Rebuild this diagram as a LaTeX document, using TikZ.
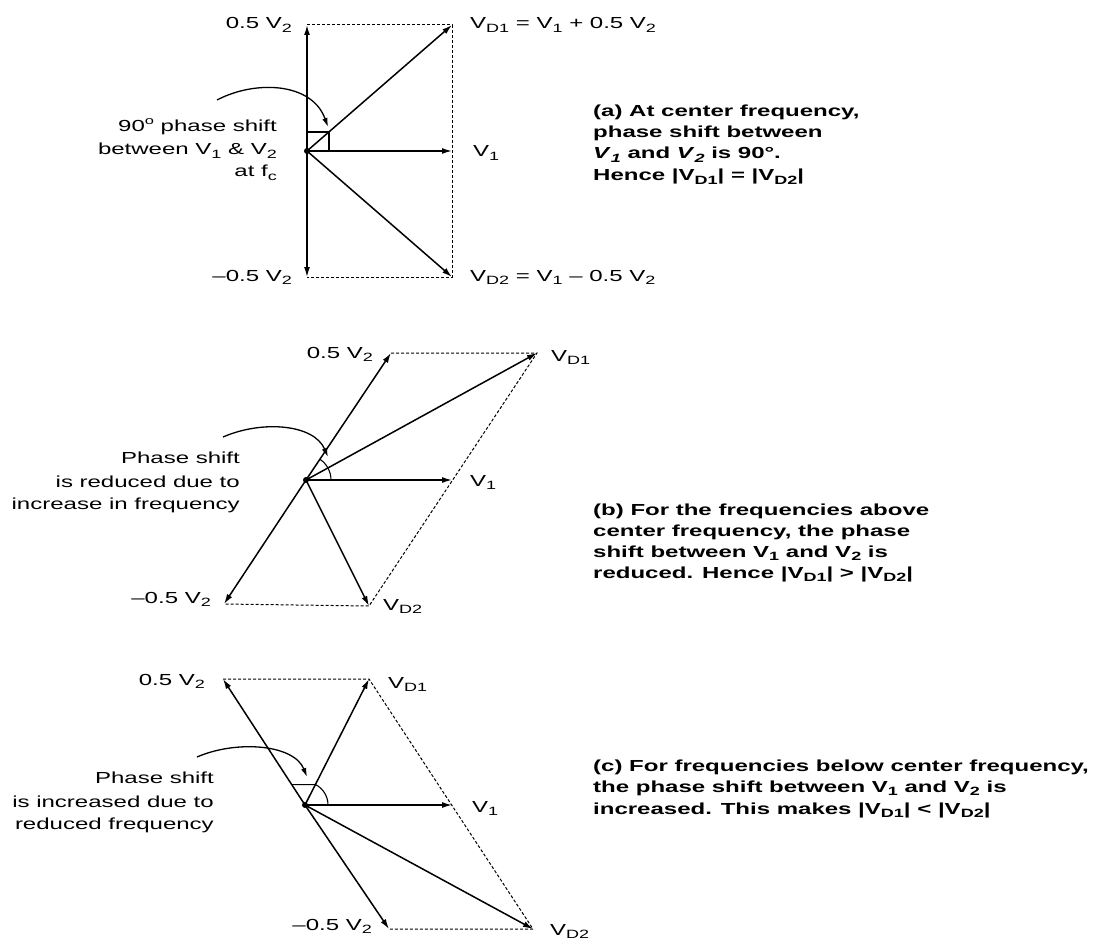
\documentclass[tikz,border=0pt]{standalone}
\usepackage{fontspec}
\setmainfont[FakeStretch=1.5]{Liberation Sans}
\usetikzlibrary{arrows.meta}
\newcommand\sbs[1]{\raisebox{-0.4ex}{\fontsize{12}{12}\selectfont #1}}
\newcommand\sps[1]{\raisebox{0.85ex}{\fontsize{11}{12}\selectfont #1}}
\begin{document}
\begin{tikzpicture}[x=1pt,y=-1pt,
  vec/.style={line width=1.5pt,-{Latex[length=10pt,width=6pt]}},
  dsh/.style={line width=1pt,dash pattern=on 3pt off 2pt},
  bendarrow/.style={line width=1.3pt,-{Latex[length=9pt,width=5.5pt]}},
  anglemark/.style={line width=1.1pt},
  lbl/.style={font=\fontsize{16}{20}\selectfont, inner sep=0pt},
  desc/.style={font=\fontsize{16}{20}\selectfont\bfseries, inner sep=0pt, anchor=base west},
  note/.style={font=\fontsize{16}{20}\selectfont, inner sep=0pt, anchor=base east}]
\useasboundingbox (0,0) rectangle (1094,941);
\fill[white] (0,0) rectangle (1094,941);

% ---------------- (a) ----------------
\coordinate (Oa) at (307,151);
\coordinate (Pa) at (307,25);
\coordinate (Na) at (307,277);
\coordinate (V1a) at (452,151);
\coordinate (D1a) at (452,25);
\coordinate (D2a) at (452,277);
\draw[dsh] (Pa) -- (D1a) -- (D2a) -- (Na);
\draw[vec] (Oa) -- (Pa);
\draw[vec] (Oa) -- (Na);
\draw[vec] (Oa) -- (V1a);
\draw[vec] (Oa) -- (D1a);
\draw[vec] (Oa) -- (D2a);
\fill (Oa) circle (3);
\draw[anglemark] (307,132) -- (329,132) -- (329,151);
\coordinate (ta) at (217,100);
\coordinate (ha) at (328,127);
\draw[bendarrow] (ta) .. controls (255,80) and (312,82) .. (ha);

\node[lbl,anchor=base east] (lPa) at (292,29) {0.5 V\sbs{2}};
\node[lbl,anchor=base east] (lNa) at (292,281) {–0.5 V\sbs{2}};
\node[lbl,anchor=base west] (lD1a) at (470,29) {V\sbs{D1} = V\sbs{1} + 0.5 V\sbs{2}};
\node[lbl,anchor=base west] (lV1a) at (473,157) {V\sbs{1}};
\node[lbl,anchor=base west] (lD2a) at (470,281) {V\sbs{D2} = V\sbs{1} – 0.5 V\sbs{2}};
\node[note] (na1) at (277,132) {90\sps{o} phase shift};
\node[note] (na2) at (277,155) {between V\sbs{1} \& V\sbs{2}};
\node[note] (na3) at (277,177) {at f\sbs{c}};

\node[desc] (da1) at (593,117) {(a) At center frequency,};
\node[desc] (da2) at (593,138) {phase shift between};
\node[desc] (da3) at (593,159) {\textit{V}\sbs{\textit{1}} and \textit{V}\sbs{\textit{2}} is 90°.};
\node[desc] (da4) at (593,181) {Hence |V\sbs{D1}| = |V\sbs{D2}|};

% ---------------- (b) ----------------
\coordinate (Ob) at (306,480);
\coordinate (Pb) at (391,353);
\coordinate (Nb) at (224,604);
\coordinate (V1b) at (452,480);
\coordinate (D1b) at (537,353);
\coordinate (D2b) at (369,606);
\draw[dsh] (Pb) -- (D1b) -- (D2b) -- (Nb);
\draw[vec] (Ob) -- (Pb);
\draw[vec] (Ob) -- (Nb);
\draw[vec] (Ob) -- (V1b);
\draw[vec] (Ob) -- (D1b);
\draw[vec] (Ob) -- (D2b);
\fill (Ob) circle (3);
\draw[anglemark] (331,480) arc[start angle=0, end angle=-56, radius=25];
\coordinate (tb) at (223,437);
\coordinate (hb) at (328,457);
\draw[bendarrow] (tb) .. controls (262,420) and (314,424) .. (hb);

\node[lbl,anchor=base east] (lPb) at (373,358) {0.5 V\sbs{2}};
\node[lbl,anchor=base east] (lNb) at (211,603) {–0.5 V\sbs{2}};
\node[lbl,anchor=base west] (lD1b) at (551,361) {V\sbs{D1}};
\node[lbl,anchor=base west] (lV1b) at (470,486) {V\sbs{1}};
\node[lbl,anchor=base west] (lD2b) at (383,610) {V\sbs{D2}};
\node[note] (nb1) at (240,463) {Phase shift};
\node[note] (nb2) at (240,487) {is reduced due to};
\node[note] (nb3) at (240,509) {increase in frequency};

\node[desc] (db1) at (593,515) {(b) For the frequencies above};
\node[desc] (db2) at (593,536) {center frequency, the phase};
\node[desc] (db3) at (593,557) {shift between V\sbs{1} and V\sbs{2} is};
\node[desc] (db4) at (593,578) {reduced. Hence |V\sbs{D1}| > |V\sbs{D2}|};

% ---------------- (c) ----------------
\coordinate (Oc) at (305,805);
\coordinate (Pc) at (223,679);
\coordinate (Nc) at (389,929);
\coordinate (V1c) at (452,805);
\coordinate (D1c) at (369,679);
\coordinate (D2c) at (533,929);
\draw[dsh] (Pc) -- (D1c) -- (D2c) -- (Nc);
\draw[vec] (Oc) -- (Pc);
\draw[vec] (Oc) -- (Nc);
\draw[vec] (Oc) -- (V1c);
\draw[vec] (Oc) -- (D1c);
\draw[vec] (Oc) -- (D2c);
\fill (Oc) circle (3);
\draw[anglemark] (328,805) arc[start angle=0, end angle=-62.7, radius=23] -- (292,784.6);
\coordinate (tc) at (197,757);
\coordinate (hc) at (307,777);
\draw[bendarrow] (tc) .. controls (236,740) and (294,744) .. (hc);

\node[lbl,anchor=base east] (lPc) at (205,685) {0.5 V\sbs{2}};
\node[lbl,anchor=base east] (lNc) at (372,930) {–0.5 V\sbs{2}};
\node[lbl,anchor=base west] (lD1c) at (388,688) {V\sbs{D1}};
\node[lbl,anchor=base west] (lV1c) at (472,812) {V\sbs{1}};
\node[lbl,anchor=base west] (lD2c) at (550,935) {V\sbs{D2}};
\node[note] (nc1) at (214,783) {Phase shift};
\node[note] (nc2) at (214,807) {is increased due to};
\node[note] (nc3) at (214,829) {reduced frequency};

\node[desc] (dc1) at (593,771) {(c) For frequencies below center frequency,};
\node[desc] (dc2) at (593,792) {the phase shift between V\sbs{1} and V\sbs{2} is};
\node[desc] (dc3) at (593,814) {increased. This makes |V\sbs{D1}| < |V\sbs{D2}|};
\end{tikzpicture}
\end{document}
